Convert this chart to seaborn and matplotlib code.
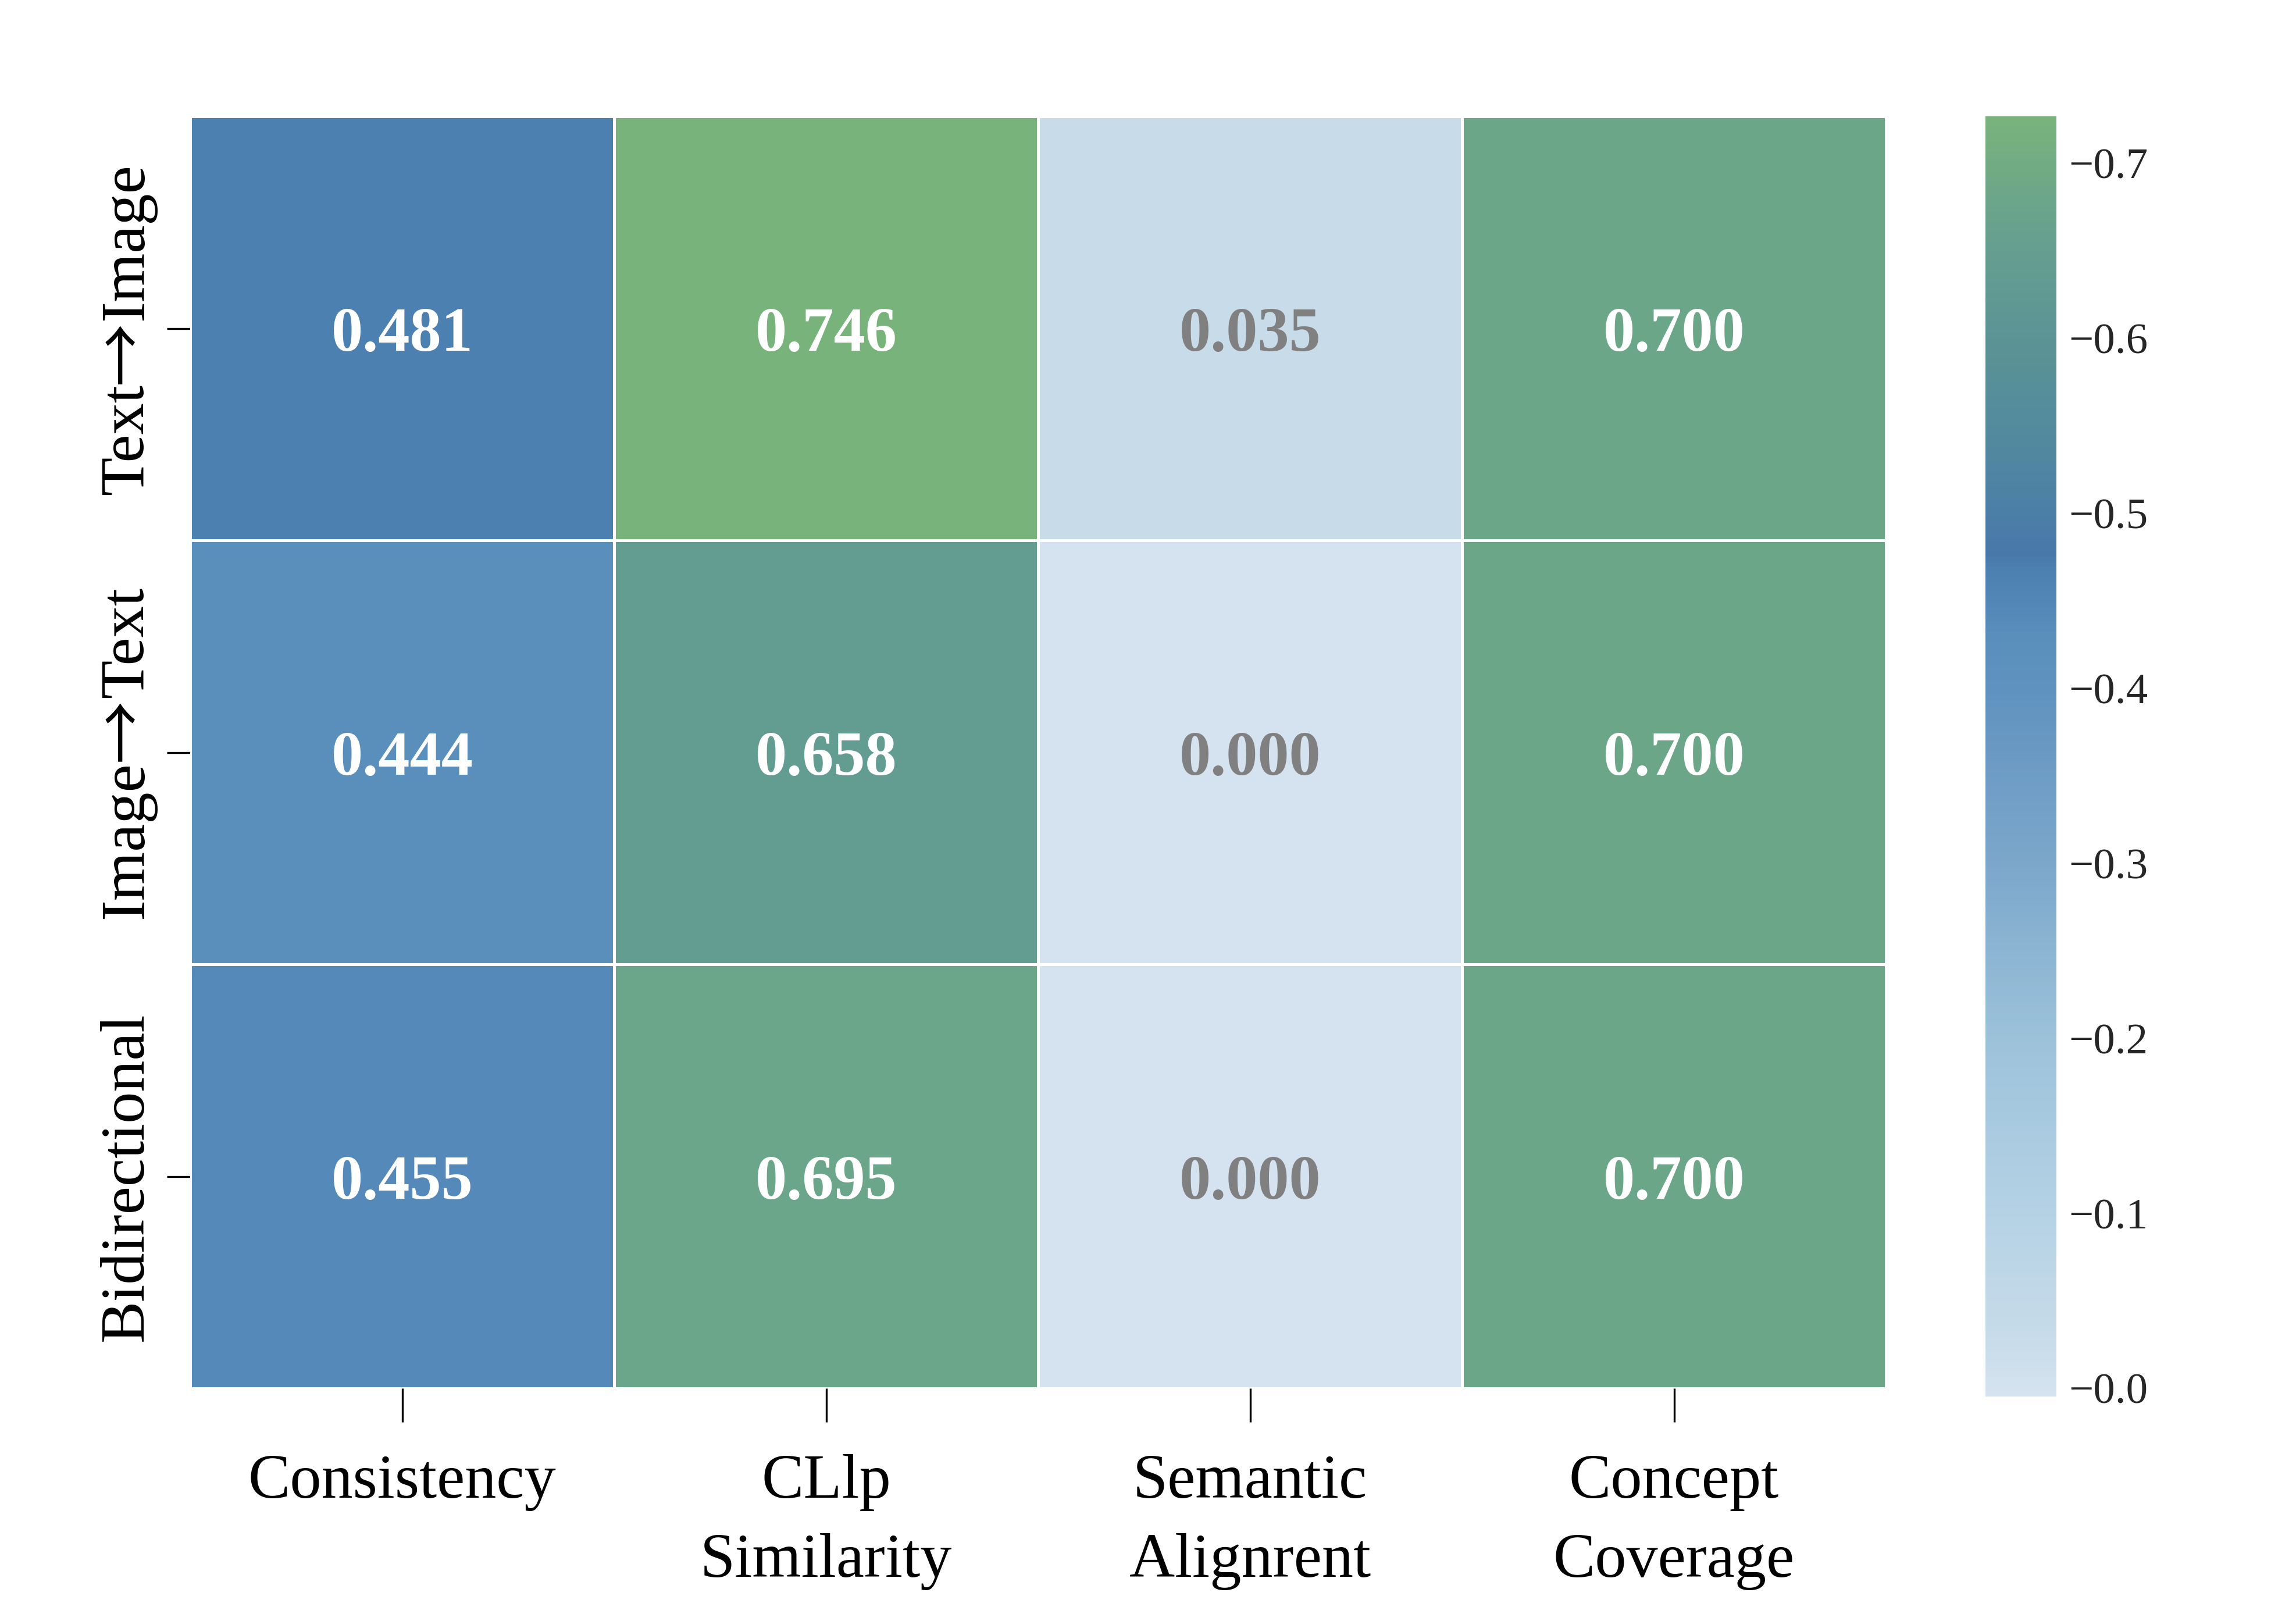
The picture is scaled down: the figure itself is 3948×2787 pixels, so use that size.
import numpy as np
import pandas as pd
import matplotlib
matplotlib.use("Agg")
import matplotlib.pyplot as plt
import seaborn as sns
from matplotlib.colors import LinearSegmentedColormap
from matplotlib.font_manager import FontProperties
from matplotlib.transforms import IdentityTransform

# ---- data ----
row_labels = ["Text→Image", "Image→Text", "Bidirectional"]
col_labels = ["Consistency", "CLlp\nSimilarity", "Semantic\nAlignrent", "Concept\nCoverage"]
consistency = [0.481, 0.444, 0.455]
clip_similarity = [0.746, 0.658, 0.695]
semantic_alignment = [0.035, 0.000, 0.000]
concept_coverage = [0.700, 0.700, 0.700]
cbar_ticklabels = ["\u22120.0", "\u22120.1", "\u22120.2", "\u22120.3",
                   "\u22120.4", "\u22120.5", "\u22120.6", "\u22120.7"]

df = pd.DataFrame({c: v for c, v in zip(col_labels,
                   [consistency, clip_similarity, semantic_alignment, concept_coverage])},
                  index=row_labels)

sns.set_theme(style="white")
plt.rcParams["font.family"] = ["Liberation Serif", "DejaVu Serif"]

vmin, vmax = 0.0, 0.746
def pos(v):
    return (v - vmin) / (vmax - vmin)
cmap = LinearSegmentedColormap.from_list("bg", [
    (0.0, "#d4e3ef"),
    (pos(0.035), "#c7dbe9"),
    (pos(0.105), "#b5d2e5"),
    (pos(0.208), "#9cc2da"),
    (pos(0.310), "#7ca7cb"),
    (pos(0.411), "#6092bf"),
    (pos(0.444), "#5a8fbb"),
    (pos(0.455), "#5589ba"),
    (pos(0.481), "#4d81b1"),
    (pos(0.492), "#4878ab"),
    (pos(0.55), "#5188a0"),
    (pos(0.616), "#5b9395"),
    (pos(0.658), "#639c91"),
    (pos(0.697), "#6ba58a"),
    (1.0, "#79b37c"),
])

fig = plt.figure(figsize=(13.16, 9.2933), dpi=300)
W, H = 3948, 2788
ax = fig.add_axes([327 / W, 1 - 2388 / H, (3243 - 327) / W, (2388 - 201) / H])
cax = fig.add_axes([3414 / W, 1 - 2402 / H, (3536 - 3414) / W, (2402 - 201) / H])

sns.heatmap(df, ax=ax, cbar_ax=cax, cmap=cmap, vmin=vmin, vmax=vmax,
            linewidths=1.2, linecolor="white", annot=False)

vals = df.values
for i in range(vals.shape[0]):
    for j in range(vals.shape[1]):
        v = vals[i, j]
        color = "#808080" if v < 0.1 else "white"
        ax.text(j + 0.5, i + 0.5, f"{v:.3f}", ha="center", va="center_baseline",
                fontsize=26, fontweight="bold", color=color)

ax.set_xticklabels(col_labels, rotation=0, fontsize=26, color="black",
                   linespacing=1.5)
ax.set_yticklabels([""] * len(row_labels))
ax.tick_params(axis="x", bottom=True, length=14, width=0.8, pad=13, color="black")
ax.tick_params(axis="y", left=True, length=9.5, width=0.8, pad=9, color="black")
ax.set_xlabel("")
ax.set_ylabel("")

# row labels: serif text with a full-width arrow, drawn along a shared baseline
fig.canvas.draw()
renderer = fig.canvas.get_renderer()
fp_txt = FontProperties(family=["Liberation Serif"], size=26)
fp_arr = FontProperties(family=["Noto Sans CJK SC"], size=26)
x_base = ax.get_window_extent().x0 - 82
for i, lab in enumerate(row_labels):
    parts = lab.split("→")
    pieces = []
    for k, p in enumerate(parts):
        if k > 0:
            pieces.append(("→", fp_arr))
        pieces.append((p, fp_txt))
    widths = [renderer.get_text_width_height_descent(s, fp, ismath=False)[0]
              for s, fp in pieces]
    total = sum(widths)
    yc = ax.transData.transform((0, i + 0.5))[1]
    y = yc - total / 2
    for (s, fp), w in zip(pieces, widths):
        fig.text(x_base, y, s, fontproperties=fp, rotation=90,
                 rotation_mode="anchor", ha="left", va="baseline",
                 transform=IdentityTransform(), color="black")
        y += w

cbar_tick_pos = np.linspace(0.005, 0.719, len(cbar_ticklabels))
cax.set_yticks(cbar_tick_pos)
cax.set_yticklabels(cbar_ticklabels, fontsize=18)
cax.tick_params(length=0, pad=5)
for s in cax.spines.values():
    s.set_visible(False)

fig.savefig("out.png", dpi=300)
